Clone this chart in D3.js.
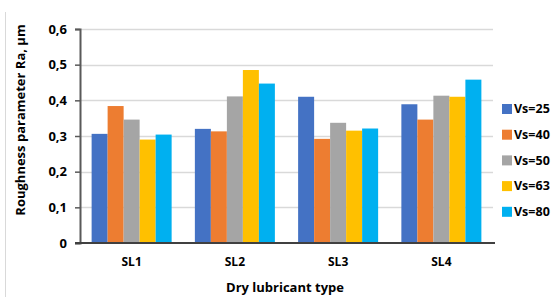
<!DOCTYPE html>
<html>
<head>
<meta charset="utf-8">
<script src="https://cdn.jsdelivr.net/npm/d3@7"></script>
<style>
  body { margin: 0; background: #fff; }
  text { font-family: "Open Sans", "Liberation Sans", sans-serif; font-weight: bold; fill: #000; }
</style>
</head>
<body>
<div id="chart"></div>
<script>
// data
var categories = ["SL1", "SL2", "SL3", "SL4"];
var seriesNames = ["Vs=25", "Vs=40", "Vs=50", "Vs=63", "Vs=80"];
var vs25 = [0.306, 0.320, 0.410, 0.389];
var vs40 = [0.384, 0.313, 0.292, 0.346];
var vs50 = [0.346, 0.411, 0.337, 0.413];
var vs63 = [0.290, 0.485, 0.315, 0.410];
var vs80 = [0.304, 0.447, 0.321, 0.458];
var yTicks = [0, 0.1, 0.2, 0.3, 0.4, 0.5, 0.6];
var colors = ["#4472C4", "#ED7D31", "#A5A5A5", "#FFC000", "#00B0F0"];

var seriesValues = [vs25, vs40, vs50, vs63, vs80];

var W = 559, H = 297;
var margin = {top: 29, right: 66, bottom: 54, left: 80},
width = W - margin.left - margin.right,
height = H - margin.top - margin.bottom;

var svg = d3.select("#chart").append("svg")
  .attr("width", W).attr("height", H);

// faint frame line at the left
svg.append("line")
  .attr("x1", 5.5).attr("x2", 5.5).attr("y1", 12).attr("y2", H)
  .attr("stroke", "#D9D9D9");

var g = svg.append("g")
  .attr("transform", "translate(" + margin.left + "," + margin.top + ")");

var x0 = d3.scaleBand().domain(categories).range([0, width])
  .paddingInner(0.225).paddingOuter(0.1125);
var x1 = d3.scaleBand().domain(seriesNames).range([0, x0.bandwidth()]);
var y = d3.scaleLinear().domain([0, 0.6]).range([height, 0]);
var color = d3.scaleOrdinal().domain(seriesNames).range(colors);

// gridlines
g.selectAll(".grid").data(yTicks.slice(1)).enter().append("line")
  .attr("x1", 0).attr("x2", width)
  .attr("y1", function(d) { return Math.round(y(d)) + 0.5; })
  .attr("y2", function(d) { return Math.round(y(d)) + 0.5; })
  .attr("stroke", "#D9D9D9").attr("stroke-width", 1.5);

// bars
var rows = [];
categories.forEach(function(c, i) {
  seriesNames.forEach(function(s, j) {
    rows.push({cat: c, series: s, value: seriesValues[j][i]});
  });
});
g.selectAll(".bar").data(rows).enter().append("rect")
  .attr("x", function(d) { return x0(d.cat) + x1(d.series); })
  .attr("width", x1.bandwidth())
  .attr("y", function(d) { return y(d.value); })
  .attr("height", function(d) { return height - y(d.value); })
  .attr("fill", function(d) { return color(d.series); });

// y axis
var yAxis = g.append("g")
  .call(d3.axisLeft(y).tickValues(yTicks).tickSize(5).tickPadding(8)
    .tickFormat(function(d) { return d === 0 ? "0" : d3.format(".1f")(d).replace(".", ","); }));
yAxis.select(".domain").attr("stroke", "#595959").attr("stroke-width", 2);
yAxis.selectAll(".tick line").attr("stroke", "#595959").attr("stroke-width", 1.5);
yAxis.selectAll(".tick text").style("font-size", "13px");

// zero line
g.append("line")
  .attr("x1", -5).attr("x2", width + 2)
  .attr("y1", height).attr("y2", height)
  .attr("stroke", "#404040").attr("stroke-width", 2);

// x axis labels
var xAxis = g.append("g").attr("transform", "translate(0," + height + ")")
  .call(d3.axisBottom(x0).tickSize(0).tickPadding(14));
xAxis.select(".domain").remove();
xAxis.selectAll(".tick text").style("font-size", "12px");

// axis titles
svg.append("text")
  .attr("transform", "translate(25," + 120 + ") rotate(-90)")
  .attr("text-anchor", "middle")
  .style("font-size", "13px")
  .text("Roughness parameter Ra, µm");

svg.append("text")
  .attr("x", 285).attr("y", 292)
  .attr("text-anchor", "middle")
  .style("font-size", "13px")
  .text("Dry lubricant type");

// legend
var legend = svg.selectAll(".legend").data(seriesNames).enter().append("g")
  .attr("transform", function(d, i) { return "translate(502," + (104 + i * 25.7) + ")"; });
legend.append("rect").attr("width", 10).attr("height", 10)
  .attr("fill", function(d) { return color(d); });
legend.append("text").attr("x", 12).attr("y", 5).attr("dy", "0.35em")
  .style("font-size", "12.5px")
  .text(function(d) { return d; });
</script>
</body>
</html>
